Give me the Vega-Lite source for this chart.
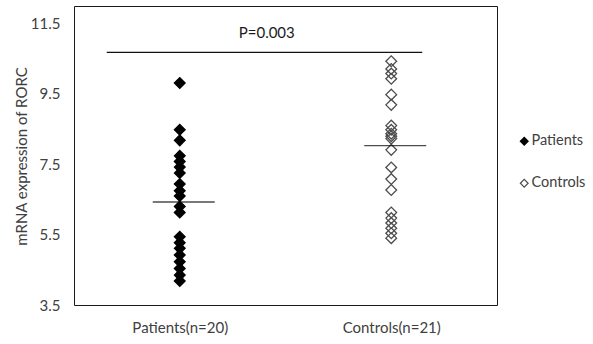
{
  "$schema": "https://vega.github.io/schema/vega-lite/v6.json",
  "width": 423,
  "height": 299,
  "autosize": {"type": "none"},
  "padding": {"left": 74, "top": 6, "right": 96, "bottom": 39},
  "background": "white",
  "config": {
    "font": "Lato",
    "view": {"stroke": "#1a1a1a", "strokeWidth": 1},
    "axis": {"grid": false, "ticks": false, "domain": false, "labelColor": "#404040", "titleColor": "#404040", "labelFont": "Lato", "titleFont": "Lato", "labelFontSize": 15, "titleFontSize": 15, "titleFontWeight": "normal"},
    "legend": {"labelFont": "Lato", "labelFontSize": 14.5, "labelColor": "#404040"}
  },
  "datasets": {
    "points": [
      {"group": "Patients", "value": 9.81},
      {"group": "Patients", "value": 8.48},
      {"group": "Patients", "value": 8.18},
      {"group": "Patients", "value": 7.74},
      {"group": "Patients", "value": 7.58},
      {"group": "Patients", "value": 7.42},
      {"group": "Patients", "value": 7.25},
      {"group": "Patients", "value": 6.94},
      {"group": "Patients", "value": 6.75},
      {"group": "Patients", "value": 6.60},
      {"group": "Patients", "value": 6.30},
      {"group": "Patients", "value": 6.13},
      {"group": "Patients", "value": 5.44},
      {"group": "Patients", "value": 5.27},
      {"group": "Patients", "value": 5.11},
      {"group": "Patients", "value": 4.92},
      {"group": "Patients", "value": 4.73},
      {"group": "Patients", "value": 4.54},
      {"group": "Patients", "value": 4.35},
      {"group": "Patients", "value": 4.18},
      {"group": "Controls", "value": 10.43},
      {"group": "Controls", "value": 10.21},
      {"group": "Controls", "value": 10.08},
      {"group": "Controls", "value": 9.93},
      {"group": "Controls", "value": 9.48},
      {"group": "Controls", "value": 9.19},
      {"group": "Controls", "value": 8.60},
      {"group": "Controls", "value": 8.48},
      {"group": "Controls", "value": 8.37},
      {"group": "Controls", "value": 8.23},
      {"group": "Controls", "value": 7.91},
      {"group": "Controls", "value": 7.41},
      {"group": "Controls", "value": 7.08},
      {"group": "Controls", "value": 6.77},
      {"group": "Controls", "value": 6.13},
      {"group": "Controls", "value": 5.97},
      {"group": "Controls", "value": 5.83},
      {"group": "Controls", "value": 5.68},
      {"group": "Controls", "value": 5.54},
      {"group": "Controls", "value": 5.40},
      {"group": "Controls", "value": 8.30}
    ],
    "means": [
      {"group": "Patients", "mean": 6.43},
      {"group": "Controls", "mean": 8.03}
    ],
    "pval": [
      {"from": "Patients", "to": "Controls", "y": 10.68, "label": "P=0.003", "ty": 11.24}
    ]
  },
  "layer": [
    {
      "data": {"name": "pval"},
      "mark": {"type": "rule", "color": "#111111", "strokeWidth": 1.2, "xOffset": -73, "x2Offset": 31},
      "encoding": {
        "x": {"field": "from", "type": "nominal", "scale": {"type": "point", "domain": ["Patients", "Controls"], "padding": 0.5},
              "axis": {"title": null, "labelAngle": 0, "labelPadding": 15, "labelDx": 7, "labelExpr": "datum.value == 'Patients' ? 'Patients(n=20)' : 'Controls(n=21)'"}},
        "x2": {"field": "to"},
        "y": {"field": "y", "type": "quantitative", "scale": {"domain": [3.5, 12], "nice": false, "zero": false},
              "axis": {"title": "mRNA expression of RORC", "values": [3.5, 5.5, 7.5, 9.5, 11.5], "format": ".1f", "labelPadding": 14, "titleX": -53, "titleY": 150, "titleAngle": -90, "titleAlign": "center", "titleBaseline": "middle"}}
      }
    },
    {
      "data": {"name": "pval"},
      "mark": {"type": "text", "fontSize": 15, "color": "#1a1a1a", "font": "Lato", "dx": 87},
      "encoding": {
        "x": {"field": "from", "type": "nominal"},
        "y": {"field": "ty", "type": "quantitative"},
        "text": {"field": "label"}
      }
    },
    {
      "data": {"name": "points"},
      "mark": {"type": "point", "shape": "diamond", "size": 115, "strokeWidth": 1.3, "opacity": 1},
      "encoding": {
        "x": {"field": "group", "type": "nominal"},
        "y": {"field": "value", "type": "quantitative"},
        "fill": {"field": "group", "type": "nominal", "scale": {"domain": ["Patients", "Controls"], "range": ["#000000", "rgba(255,255,255,0)"]},
                 "legend": {"title": null, "orient": "none", "legendX": 443, "legendY": 128, "symbolType": "diamond", "symbolSize": 60, "rowPadding": 27, "symbolStrokeWidth": 1.2, "labelOffset": 0}},
        "stroke": {"field": "group", "type": "nominal", "scale": {"domain": ["Patients", "Controls"], "range": ["#000000", "#4d4d4d"]},
                   "legend": {"title": null, "orient": "none", "legendX": 443, "legendY": 128, "symbolType": "diamond", "symbolSize": 60, "rowPadding": 27, "symbolStrokeWidth": 1.2, "labelOffset": 0}}
      }
    },
    {
      "data": {"name": "means"},
      "mark": {"type": "tick", "orient": "horizontal", "color": "#000000", "thickness": 1.4, "size": 62, "xOffset": 4},
      "encoding": {
        "x": {"field": "group", "type": "nominal"},
        "y": {"field": "mean", "type": "quantitative"}
      }
    }
  ]
}
